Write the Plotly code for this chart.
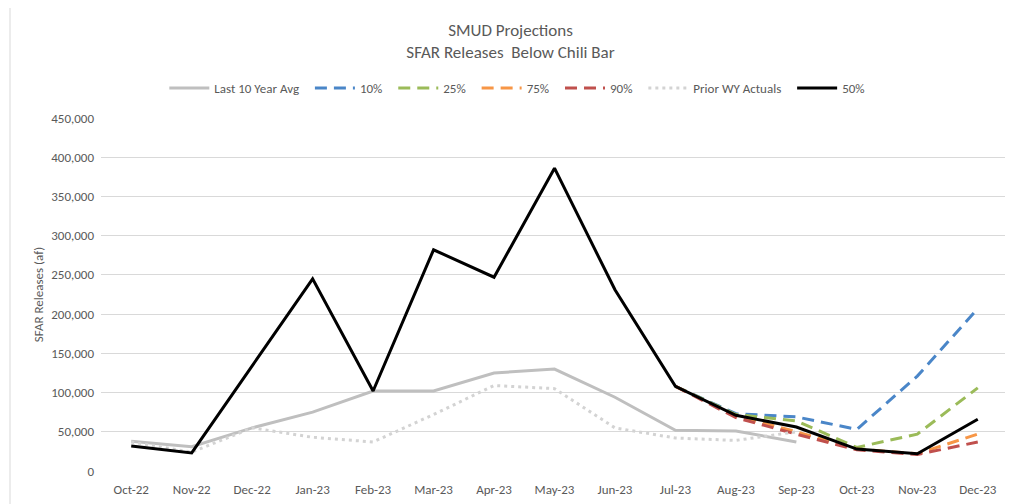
import plotly.graph_objects as go

months = ["Oct-22", "Nov-22", "Dec-22", "Jan-23", "Feb-23", "Mar-23", "Apr-23", "May-23",
          "Jun-23", "Jul-23", "Aug-23", "Sep-23", "Oct-23", "Nov-23", "Dec-23"]

last10_avg = [38000, 31000, 55000, 75000, 102000, 102000, 125000, 130000, 94000, 52000, 51000, 37000,
              None, None, None]
p10 = [None] * 9 + [108000, 73000, 69000, 53000, 121000, 207000]
p25 = [None] * 9 + [108000, 72000, 64000, 30000, 47000, 106000]
p75 = [None] * 9 + [108000, 70000, 50000, 28000, 22000, 47000]
p90 = [None] * 9 + [108000, 68000, 47000, 27000, 21000, 37000]
prior_wy = [37000, 24000, 55000, 43000, 37000, 72000, 109000, 105000, 55000, 42000, 39000, 50000,
            None, None, None]
p50 = [32000, 23000, 134000, 245000, 102000, 282000, 247000, 386000, 231000, 108000, 71000, 56000,
       28000, 22000, 66000]

y_ticks = [0, 50000, 100000, 150000, 200000, 250000, 300000, 350000, 400000, 450000]

FONT = "Calibri, 'Liberation Sans Narrow', 'Liberation Sans', Arial, sans-serif"
TXT = "#595959"
PAD = "\u00a0\u00a0"

series = [
    ("Last 10 Year Avg", last10_avg, "#BFBFBF", "solid", 3),
    ("10%", p10, "#4A86C8", "12px,7px", 3),
    ("25%", p25, "#9BBB59", "12px,7px", 3),
    ("75%", p75, "#F79646", "12px,7px", 3),
    ("90%", p90, "#C0504D", "12px,7px", 3),
    ("Prior WY Actuals", prior_wy, "#D3D3D3", "3px,4px", 3),
    ("50%", p50, "#000000", "solid", 3),
]

fig = go.Figure()
for i, (name, vals, color, dash, w) in enumerate(series):
    label = name + (PAD if i < len(series) - 1 else "")
    fig.add_trace(go.Scatter(x=months, y=vals, name=label, mode="lines",
                             line=dict(color=color, dash=dash, width=w),
                             connectgaps=False))

# page body has an 8px default margin; figure is sized/offset to compensate
fig.update_layout(
    width=1005, height=496,
    margin=dict(l=93, r=5, t=110, b=33),
    paper_bgcolor="white", plot_bgcolor="white",
    font=dict(family=FONT, color=TXT, size=13),
    title=dict(text="SMUD Projections<br>SFAR Releases  Below Chili Bar",
               x=0.5, xanchor="center", y=0.943, yanchor="middle",
               font=dict(size=17, color=TXT, family=FONT)),
    legend=dict(orientation="h", x=0.459, xanchor="center",
                y=1.085, yanchor="middle",
                font=dict(size=13, color=TXT), bgcolor="rgba(0,0,0,0)",
                itemwidth=40, traceorder="normal"),
    showlegend=True,
)
fig.update_xaxes(type="category", range=[-0.5, 14.5], showgrid=False, showline=False,
                 zeroline=False, ticks="", tickfont=dict(size=13, color=TXT),
                 ticklabelstandoff=9, automargin=False)
fig.update_yaxes(range=[0, 450000], tickvals=y_ticks, tickformat=",d",
                 showgrid=True, gridcolor="#D9D9D9", gridwidth=1, zeroline=False,
                 showline=False, ticks="", tickfont=dict(size=13, color=TXT),
                 ticklabelstandoff=6,
                 title=dict(text="SFAR Releases (af)", font=dict(size=13, color=TXT), standoff=4),
                 automargin=False)

fig.add_shape(type="rect", xref="paper", yref="paper",
              x0=(10 - 101) / 907, x1=(1009 - 101) / 907,
              y0=-0.2, y1=(471 - 4) / 353,
              line=dict(color="#D9D9D9", width=1), fillcolor="rgba(0,0,0,0)", layer="below")

fig.write_html("out.html")
